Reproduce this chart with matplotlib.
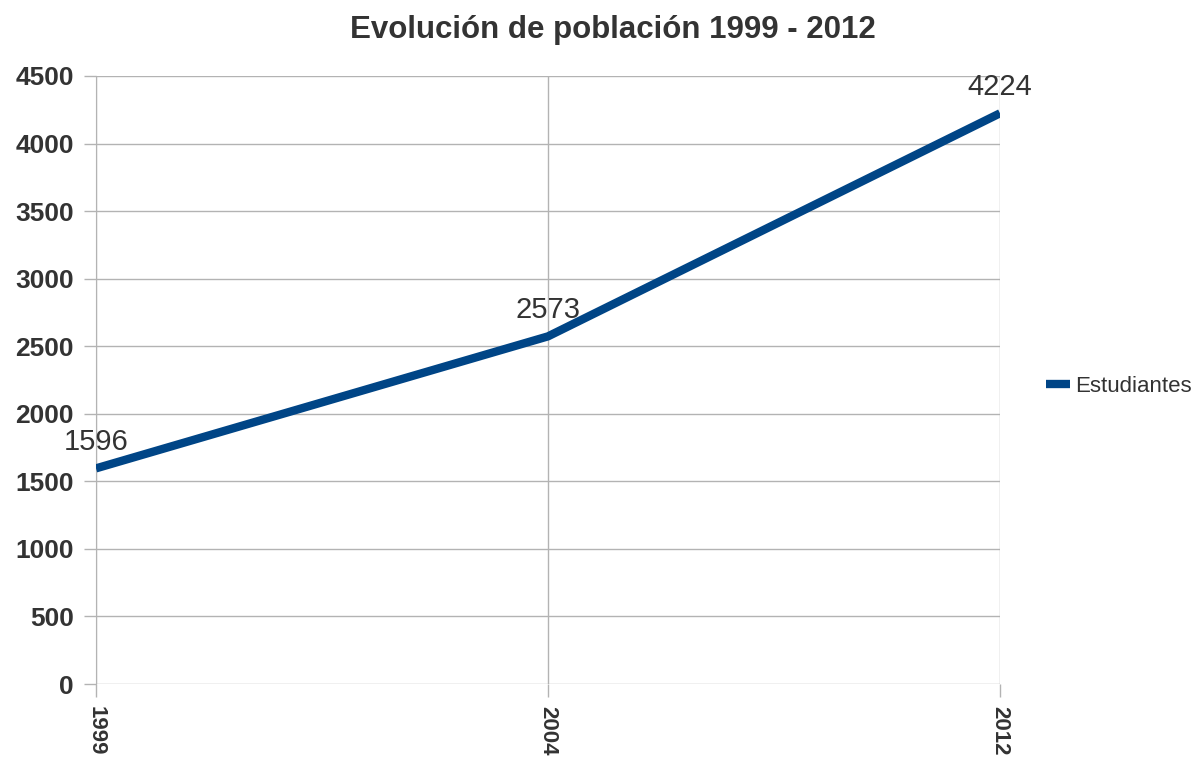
import matplotlib.pyplot as plt
import numpy as np

years = ['1999', '2004', '2012']
estudiantes = [1596, 2573, 4224]
y_ticks = [0, 500, 1000, 1500, 2000, 2500, 3000, 3500, 4000, 4500]

plt.rcParams['font.family'] = ['Liberation Sans', 'DejaVu Sans']

fig = plt.figure(figsize=(12.02, 7.59), dpi=100)
ax = fig.add_axes([96 / 1202, 1 - 684 / 759, (1000 - 96) / 1202, (684 - 76) / 759])

x = np.arange(len(years))
ax.plot(x, estudiantes, color='#004586', linewidth=6, solid_capstyle='butt',
        solid_joinstyle='round', label='Estudiantes', zorder=3)

# etiquetas de datos encima de cada punto
for xi, v in zip(x, estudiantes):
    ax.annotate(str(v), (xi, v), xytext=(0, 9), textcoords='offset points',
                ha='center', va='bottom', fontsize=21, color='#333333')

ax.set_xlim(0, len(years) - 1)
ax.set_ylim(0, 4500)
ax.set_xticks(x)
ax.set_xticklabels(years, rotation=270, fontsize=16, fontweight='bold', color='#333333')
ax.set_yticks(y_ticks)
ax.set_yticklabels([str(t) for t in y_ticks], fontsize=19, fontweight='bold', color='#333333')

ax.grid(True, color='#b3b3b3', linewidth=1)
ax.set_axisbelow(True)
for s in ['top', 'right', 'bottom']:
    ax.spines[s].set_visible(False)
ax.spines['left'].set_color('#b3b3b3')
ax.tick_params(axis='both', color='#b3b3b3', length=9, width=1)
ax.tick_params(axis='y', pad=7)
ax.tick_params(axis='x', pad=7)

fig.text(613 / 1202, 1 - 38 / 759, 'Evolución de población 1999 - 2012', fontsize=22.5,
         fontweight='bold', color='#333333', ha='center', va='baseline')

leg = ax.legend(loc='center left', bbox_to_anchor=(1046 / 1202, 1 - 386 / 759),
                bbox_transform=fig.transFigure, frameon=False, borderaxespad=0,
                borderpad=0, fontsize=16, handlelength=1.1, handletextpad=0.2)
for t in leg.get_texts():
    t.set_color('#333333')

fig.savefig('out.png', dpi=100)
